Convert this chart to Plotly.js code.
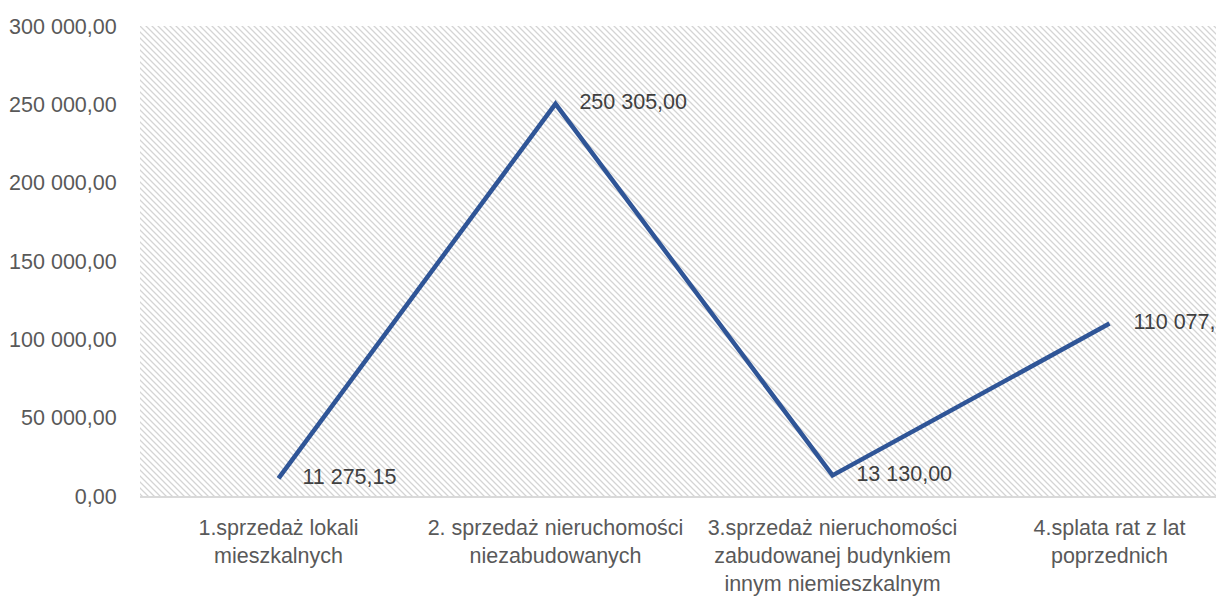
<!DOCTYPE html>
<html>
<head>
<meta charset="utf-8">
<script src="https://cdn.plot.ly/plotly-3.0.1.min.js"></script>
<style>
  html, body { margin: 0; padding: 0; background: #ffffff; }
  #wrap { position: relative; width: 1216px; height: 596px; overflow: hidden; }
  #hatch {
    position: absolute; left: 140px; top: 26px; width: 1076px; height: 470px;
    background-color: #ffffff;
    background-image: url("data:image/svg+xml;utf8,<svg xmlns='http://www.w3.org/2000/svg' width='6' height='6'><path d='M-1,-1 L7,7 M-1,5 L1,7 M5,-1 L7,1' stroke='%23d4d4d4' stroke-width='1.3'/></svg>");
    background-size: 6px 6px;
    background-repeat: repeat;
  }
  #chart { position: absolute; left: 0; top: 0; width: 1216px; height: 596px; }
</style>
</head>
<body>
<div id="wrap">
  <div id="hatch"></div>
  <div id="chart"></div>
</div>
<script>
const categories = [
  "1.sprzedaż lokali<br>mieszkalnych",
  "2. sprzedaż nieruchomości<br>niezabudowanych",
  "3.sprzedaż nieruchomości<br>zabudowanej budynkiem<br>innym niemieszkalnym",
  "4.splata rat z lat<br>poprzednich"
];
const values = [11275.15, 250305.00, 13130.00, 110077.00];
const yTicks = [0, 50000, 100000, 150000, 200000, 250000, 300000];

const idx = categories.map((c, i) => i);
const FONT = 'Liberation Sans, Arial, sans-serif';

const trace = {
  type: 'scatter',
  mode: 'lines+text',
  x: idx,
  y: values,
  line: { color: '#2F5597', width: 4.5 },
  texttemplate: '    %{y:,.2f}',
  textposition: 'middle right',
  textfont: { family: FONT, size: 21.5, color: '#404040' },
  cliponaxis: false,
  hoverinfo: 'skip'
};

const layout = {
  width: 1216,
  height: 596,
  margin: { l: 140, r: 0, t: 26, b: 100 },
  paper_bgcolor: 'rgba(0,0,0,0)',
  plot_bgcolor: 'rgba(0,0,0,0)',
  separators: ', ',
  showlegend: false,
  font: { family: FONT, size: 21.5, color: '#595959' },
  xaxis: {
    range: [-0.5, 3.5 - 32 / 277],
    tickvals: idx,
    ticktext: categories,
    showgrid: false,
    zeroline: false,
    showline: true,
    linecolor: '#d9d9d9',
    linewidth: 2,
    ticks: 'outside',
    ticklen: 11,
    tickcolor: 'rgba(0,0,0,0)',
    automargin: false,
    tickfont: { family: FONT, size: 21.5, color: '#595959' }
  },
  yaxis: {
    range: [0, 300000],
    tickvals: yTicks,
    tickformat: ',.2f',
    showgrid: false,
    zeroline: false,
    showline: false,
    ticks: 'outside',
    ticklen: 18,
    tickcolor: 'rgba(0,0,0,0)',
    automargin: false,
    tickfont: { family: FONT, size: 21.5, color: '#595959' }
  }
};

Plotly.newPlot('chart', [trace], layout, { staticPlot: true, displayModeBar: false });
</script>
</body>
</html>
